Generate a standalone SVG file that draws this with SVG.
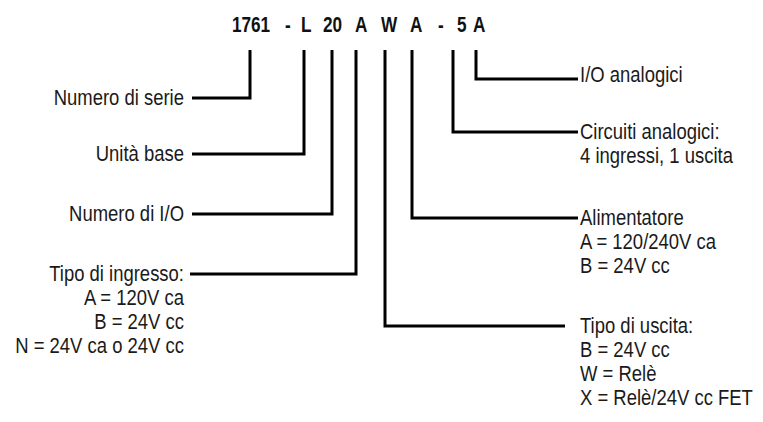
<svg xmlns="http://www.w3.org/2000/svg" width="763" height="422" viewBox="0 0 763 422">
<style>
.t{font-family:"Liberation Sans",Arial,sans-serif;font-size:22px;fill:#1a1a1a}
.r{text-anchor:end}
.h{font-family:"Liberation Sans",Arial,sans-serif;font-size:22px;font-weight:bold;fill:#111}
.c{fill:none;stroke:#000;stroke-width:3;stroke-linejoin:miter}
</style>
<rect width="763" height="422" fill="#fff"/>
<g id="code">
<text class="h" transform="translate(232,32) scale(0.78,1)">1761</text>
<text class="h" transform="translate(285,32) scale(0.78,1)">-</text>
<text class="h" transform="translate(301,32) scale(0.78,1)">L</text>
<text class="h" transform="translate(323,32) scale(0.78,1)">20</text>
<text class="h" transform="translate(355,32) scale(0.78,1)">A</text>
<text class="h" transform="translate(381,32) scale(0.78,1)">W</text>
<text class="h" transform="translate(410,32) scale(0.78,1)">A</text>
<text class="h" transform="translate(438,32) scale(0.78,1)">-</text>
<text class="h" transform="translate(457,32) scale(0.78,1)">5</text>
<text class="h" transform="translate(473,32) scale(0.78,1)">A</text>
</g>
<g id="connectors">
<path class="c" d="M250,50 V98 H192"/>
<path class="c" d="M304,50 V154 H192"/>
<path class="c" d="M332,50 V214 H192"/>
<path class="c" d="M356,50 V274 H190"/>
<path class="c" d="M385,50 V326 H565"/>
<path class="c" d="M412,50 V218 H578"/>
<path class="c" d="M453,50 V132 H578"/>
<path class="c" d="M476,50 V79 H578"/>
</g>
<g id="n-serie"><text class="t r" transform="translate(184,105) scale(0.84,1)">Numero di serie</text></g>
<g id="n-base"><text class="t r" transform="translate(184,161) scale(0.84,1)">Unità base</text></g>
<g id="n-io"><text class="t r" transform="translate(184,221) scale(0.84,1)">Numero di I/O</text></g>
<g id="n-ingresso">
<text class="t r" transform="translate(184,281) scale(0.84,1)">Tipo di ingresso:</text>
<text class="t r" transform="translate(184,305) scale(0.84,1)">A = 120V ca</text>
<text class="t r" transform="translate(184,329) scale(0.84,1)">B = 24V cc</text>
<text class="t r" transform="translate(184,353) scale(0.84,1)">N = 24V ca o 24V cc</text>
</g>
<g id="n-ioanalog"><text class="t" transform="translate(580,82) scale(0.84,1)">I/O analogici</text></g>
<g id="n-circuiti">
<text class="t" transform="translate(580,139) scale(0.84,1)">Circuiti analogici:</text>
<text class="t" transform="translate(580,163) scale(0.84,1)">4 ingressi, 1 uscita</text>
</g>
<g id="n-alim">
<text class="t" transform="translate(580,225) scale(0.84,1)">Alimentatore</text>
<text class="t" transform="translate(580,249) scale(0.84,1)">A = 120/240V ca</text>
<text class="t" transform="translate(580,273) scale(0.84,1)">B = 24V cc</text>
</g>
<g id="n-uscita">
<text class="t" transform="translate(580,333) scale(0.84,1)">Tipo di uscita:</text>
<text class="t" transform="translate(580,357) scale(0.84,1)">B = 24V cc</text>
<text class="t" transform="translate(580,381) scale(0.84,1)">W = Relè</text>
<text class="t" transform="translate(580,405) scale(0.84,1)">X = Relè/24V cc FET</text>
</g>
</svg>
